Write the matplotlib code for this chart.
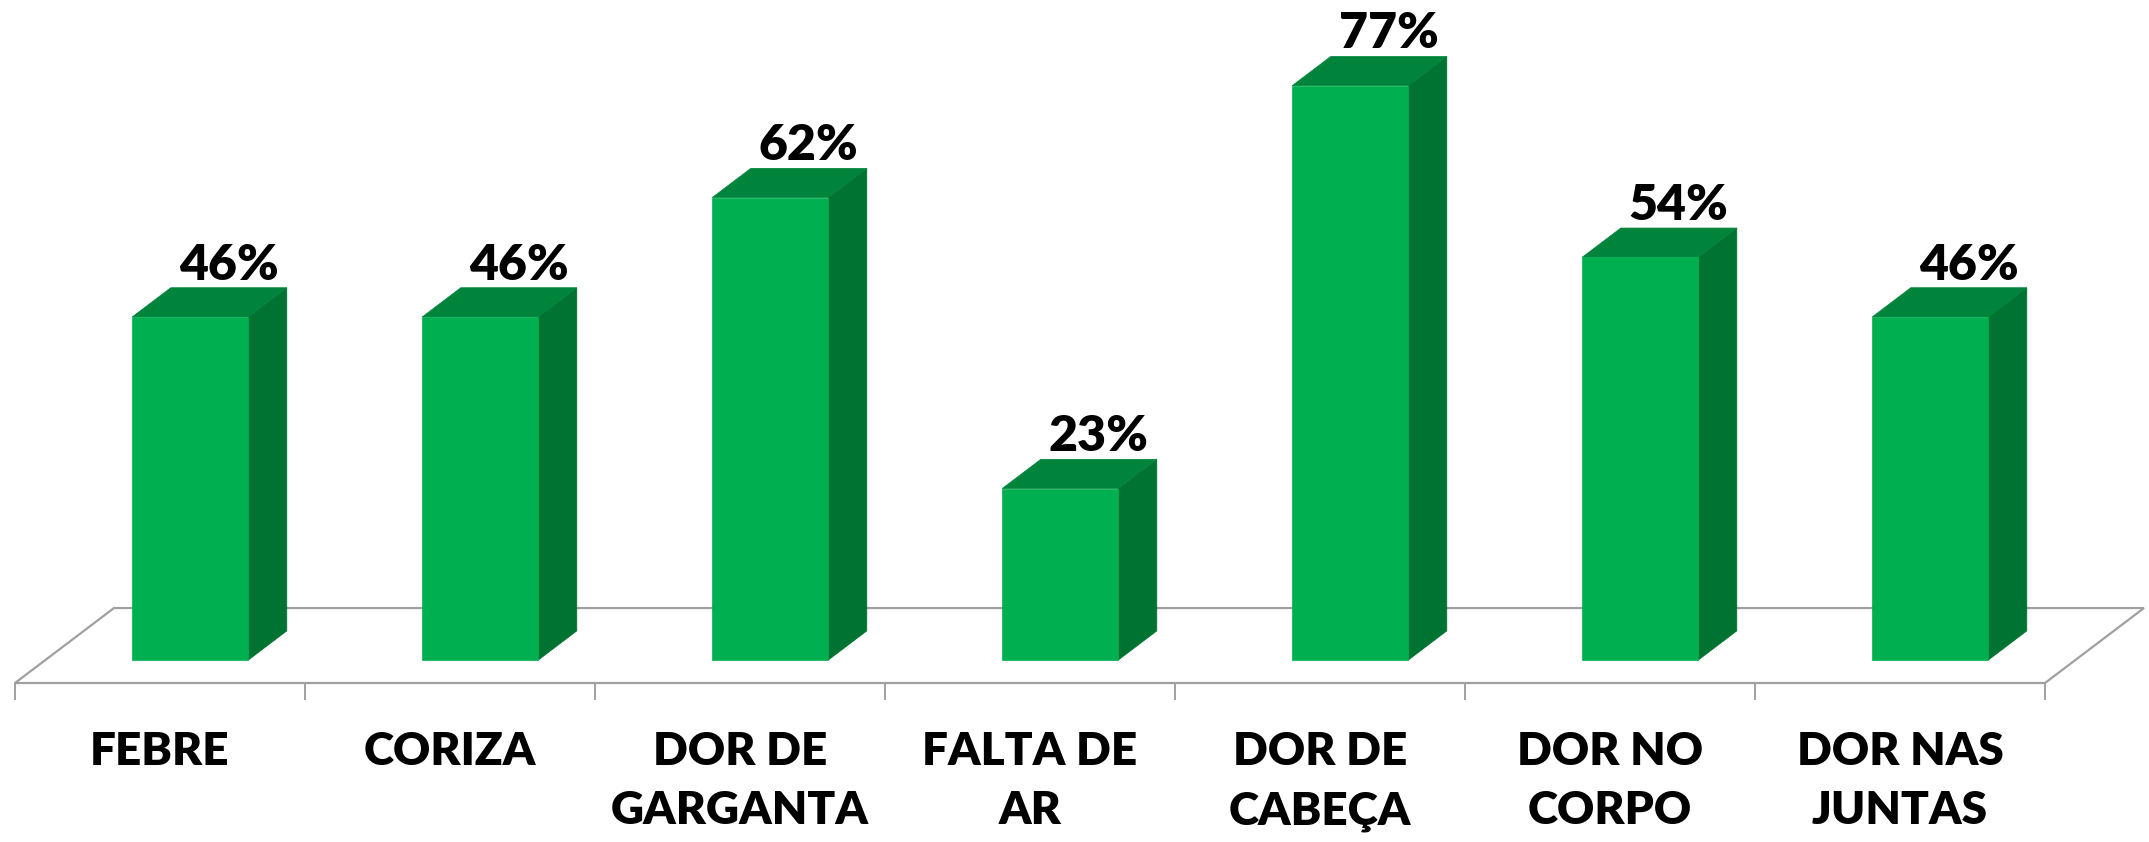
import matplotlib.pyplot as plt
from matplotlib.patches import Polygon

categories = ["FEBRE", "CORIZA", "DOR DE\nGARGANTA", "FALTA DE\nAR",
              "DOR DE\nCABEÇA", "DOR NO\nCORPO", "DOR NAS\nJUNTAS"]
values = [46, 46, 62, 23, 77, 54, 46]

FRONT = "#00b050"
TOP = "#00843c"
SIDE = "#007232"
FLOOR = "#a0a0a0"

# oblique projection: full floor depth shifts this much (x in categories, y in %)
DX, DY = 0.3414, 10.05
D0, D1 = 0.305, 0.695  # depth span of the bars
HALF = 0.2  # half bar width in category units


def proj(x, y, d):
    return (x + d * DX, y + d * DY)


def main():
    plt.rcParams["font.family"] = ["Lato", "DejaVu Sans"]
    fig = plt.figure(figsize=(21.49, 8.42), dpi=100)
    ax = fig.add_axes([0, 0, 1, 1])
    ax.set_xlim(-0.0517, 7.3586)
    ax.set_ylim(-21.31, 91.55)
    ax.axis("off")

    n = len(categories)
    # floor
    floor = [proj(0, 0, 0), proj(n, 0, 0), proj(n, 0, 1), proj(0, 0, 1)]
    ax.add_patch(Polygon(floor, closed=True, fill=False, edgecolor=FLOOR,
                         lw=1.6, joinstyle="miter"))
    for k in range(n + 1):
        ax.plot([k, k], [0, -2.2], color=FLOOR, lw=1.4)

    for i, v in enumerate(values):
        x0, x1 = i + 0.5 - HALF, i + 0.5 + HALF
        front = [proj(x0, 0, D0), proj(x1, 0, D0), proj(x1, v, D0), proj(x0, v, D0)]
        top = [proj(x0, v, D0), proj(x1, v, D0), proj(x1, v, D1), proj(x0, v, D1)]
        side = [proj(x1, 0, D0), proj(x1, 0, D1), proj(x1, v, D1), proj(x1, v, D0)]
        ax.add_patch(Polygon(side, closed=True, facecolor=SIDE, edgecolor=SIDE, lw=0.5))
        ax.add_patch(Polygon(top, closed=True, facecolor=TOP, edgecolor=TOP, lw=0.5))
        ax.add_patch(Polygon(front, closed=True, facecolor=FRONT, edgecolor=FRONT, lw=0.5))

        lx, ly = proj(i + 0.5, v + 1.1, D1)
        ax.text(lx, ly, f"{v}%", ha="center", va="baseline",
                fontsize=36, fontweight="heavy", color="black")

        ax.text(i + 0.5, -6.4, categories[i], ha="center", va="top",
                fontsize=33, fontweight="heavy", color="black", linespacing=1.55)

    fig.savefig("out.png", dpi=100)


main()
